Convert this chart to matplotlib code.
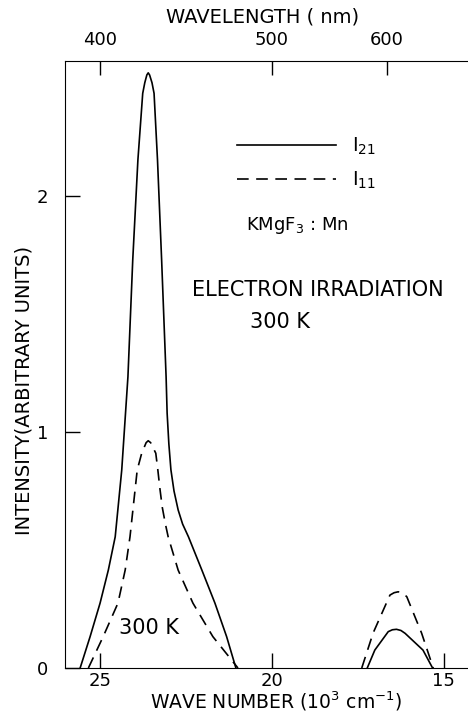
import matplotlib.pyplot as plt

# wave number (10^3 cm^-1) vs intensity
# I21 (solid) - blue band
wn_i21_a = [25.58, 25.29, 25.00, 24.76, 24.56, 24.37, 24.19, 24.05, 23.90, 23.76,
            23.70, 23.64, 23.60, 23.56, 23.49, 23.43, 23.33, 23.21, 23.08, 23.05,
            23.00, 22.94, 22.85, 22.73, 22.60, 22.43, 22.04, 21.66, 21.32, 21.05]
i21_a = [0.0, 0.133, 0.275, 0.415, 0.556, 0.839, 1.234, 1.729, 2.153, 2.435,
         2.48, 2.513, 2.522, 2.513, 2.48, 2.435, 2.153, 1.729, 1.234, 1.08,
         0.95, 0.84, 0.75, 0.67, 0.61, 0.556, 0.415, 0.275, 0.133, 0.0]
# I21 (solid) - red band
wn_i21_b = [17.23, 17.01, 16.62, 16.50, 16.38, 16.25, 16.13, 15.61, 15.33]
i21_b = [0.0, 0.076, 0.154, 0.162, 0.164, 0.159, 0.147, 0.076, 0.0]

# I11 (dashed) - blue band
wn_i11_a = [25.34, 24.91, 24.48, 24.27, 24.13, 23.92, 23.79, 23.66, 23.60, 23.53,
            23.38, 23.32, 23.26, 23.19, 23.10, 23.02, 22.73, 22.30, 21.72, 20.99]
i11_a = [0.0, 0.133, 0.275, 0.415, 0.556, 0.839, 0.910, 0.955, 0.963, 0.955,
         0.910, 0.839, 0.76, 0.68, 0.61, 0.556, 0.415, 0.275, 0.133, 0.0]
# I11 (dashed) - red band
wn_i11_b = [17.39, 17.06, 16.57, 16.45, 16.33, 16.20, 16.08, 15.65, 15.31]
i11_b = [0.0, 0.148, 0.309, 0.319, 0.323, 0.318, 0.302, 0.148, 0.0]

wn_ticks = [25, 20, 15]
y_ticks = [0, 1, 2]
wl_ticks = [400, 500, 600]  # nm

plt.rcParams['font.family'] = 'DejaVu Sans'

fig = plt.figure(figsize=(4.68, 7.13), dpi=100)
ax = fig.add_axes([0.1389, 0.0631, 0.8611, 0.8513])

dash = (7, 4.5)
l21, = ax.plot(wn_i21_a, i21_a, color='black', lw=1.2, label=r'I$_{21}$')
ax.plot(wn_i21_b, i21_b, color='black', lw=1.2)
l11, = ax.plot(wn_i11_a, i11_a, color='black', lw=1.2, dashes=dash, label=r'I$_{11}$')
ax.plot(wn_i11_b, i11_b, color='black', lw=1.2, dashes=dash)

ax.set_xlim(26.02, 14.30)
ax.set_ylim(0, 2.572)
ax.set_xticks(wn_ticks)
ax.set_yticks(y_ticks)
ax.tick_params(axis='x', direction='in', length=11, width=1, labelsize=13, pad=3)
ax.tick_params(axis='y', direction='in', length=11, width=1, labelsize=13, pad=12)
ax.spines['right'].set_visible(False)
ax.spines['top'].set_visible(False)

ax.set_xlabel(r'WAVE NUMBER (10$^3$ cm$^{-1}$)', fontsize=13.5)
ax.xaxis.set_label_coords(0.524, -0.036)
ax.set_ylabel('INTENSITY(ARBITRARY UNITS)', fontsize=14)
ax.yaxis.set_label_coords(-0.079, 0.458)

# wavelength scale on top
ax2 = ax.twiny()
ax2.set_xlim(ax.get_xlim())
ax2.set_xticks([1e4 / w for w in wl_ticks])
ax2.set_xticklabels([str(w) for w in wl_ticks])
ax2.tick_params(axis='x', direction='in', length=10, width=1, labelsize=13, pad=9)
for s in ['left', 'right', 'bottom']:
    ax2.spines[s].set_visible(False)
ax2.set_xlabel('WAVELENGTH ( nm)', fontsize=14)
ax2.xaxis.set_label_coords(0.491, 1.063)

ax.legend(handles=[l21, l11], loc='upper left', bbox_to_anchor=(0.506, 0.809),
          bbox_transform=fig.transFigure, frameon=False, fontsize=14,
          handlelength=5.1, handletextpad=0.8, labelspacing=0.65,
          borderpad=0, borderaxespad=0)

ax.text(297 / 468, 1 - 225 / 713, r'KMgF$_3$ : Mn', transform=fig.transFigure,
        fontsize=13, ha='center', va='center')
ax.text(318 / 468, 1 - 290 / 713, 'ELECTRON IRRADIATION', transform=fig.transFigure,
        fontsize=15, ha='center', va='center')
ax.text(280 / 468, 1 - 322 / 713, '300 K', transform=fig.transFigure,
        fontsize=15, ha='center', va='center')
ax.text(149 / 468, 1 - 628 / 713, '300 K', transform=fig.transFigure,
        fontsize=15, ha='center', va='center')

fig.savefig('out.png', dpi=100)
